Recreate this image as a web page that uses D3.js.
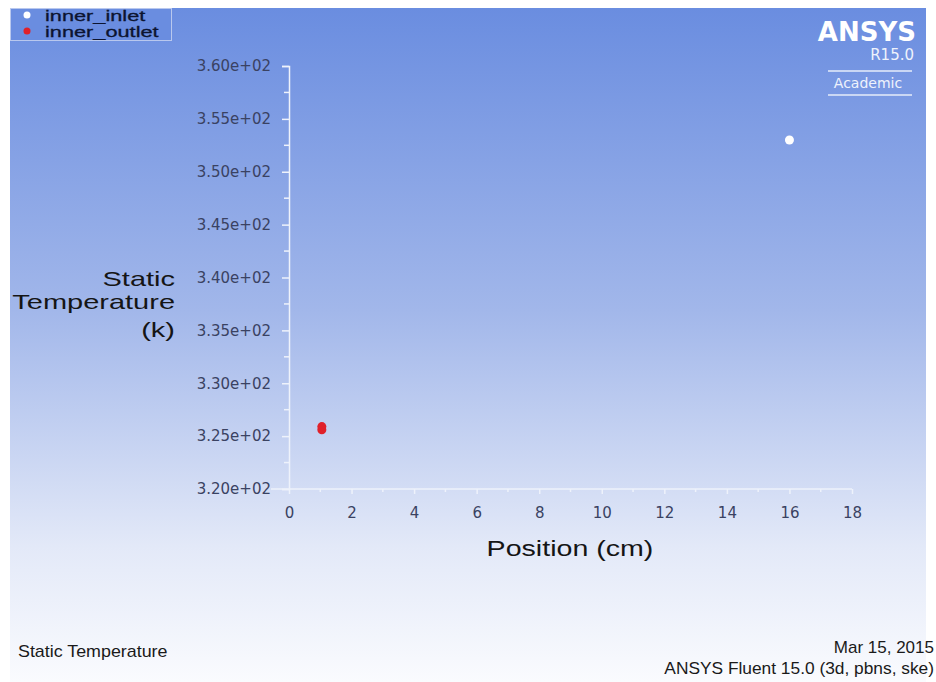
<!DOCTYPE html>
<html>
<head>
<meta charset="utf-8">
<script src="https://cdn.jsdelivr.net/npm/d3@7"></script>
<style>
  body { margin: 0; background: #fff; }
  svg { display: block; font-family: Arial, "Liberation Sans", sans-serif; }
</style>
</head>
<body>
<svg id="chart" width="936" height="682"></svg>
<script>
const seriesNames = ["inner_inlet", "inner_outlet"];
const seriesColors = ["#ffffff", "#e0202a"];
const inletPoints = [{ x: 16, y: 353.0 }];
const outletPoints = [{ x: 1.05, y: 325.6 }, { x: 1.05, y: 325.9 }];
const yTicks = [320, 325, 330, 335, 340, 345, 350, 355, 360];
const xTicks = [0, 2, 4, 6, 8, 10, 12, 14, 16, 18];
const yTitleLines = ["Static", "Temperature", "(k)"];

const svg = d3.select("#chart");

// text that is a bit wider than the font, like the stretched screenshot
function wideText(parent, px, py, anchor, txt, size, sx, color) {
  return parent.append("text")
    .attr("transform", `translate(${px},${py}) scale(${sx},1)`)
    .attr("text-anchor", anchor)
    .attr("fill", color)
    .style("font-size", size + "px")
    .text(txt);
}

// background panel with vertical gradient
const defs = svg.append("defs");
const grad = defs.append("linearGradient")
  .attr("id", "bg").attr("x1", 0).attr("y1", 0).attr("x2", 0).attr("y2", 1);
grad.append("stop").attr("offset", "0%").attr("stop-color", "#6a8de0");
grad.append("stop").attr("offset", "45%").attr("stop-color", "#a2b7ea");
grad.append("stop").attr("offset", "80%").attr("stop-color", "#e3e9f8");
grad.append("stop").attr("offset", "100%").attr("stop-color", "#fafbfe");

svg.append("rect")
  .attr("x", 10).attr("y", 8).attr("width", 916).attr("height", 674)
  .attr("fill", "url(#bg)");

const x = d3.scaleLinear().domain([0, 18]).range([289, 852]);
const y = d3.scaleLinear().domain([320, 360]).range([489, 66]);

const axisColor = "#eef2fb";
const tickText = "#3a4262";

// y axis
const yAxis = svg.append("g")
  .attr("transform", `translate(${x(0)},0)`)
  .call(d3.axisLeft(y).tickValues(yTicks).tickSize(7).tickPadding(11)
    .tickFormat((d) => d.toExponential(2).replace("e+", "e+0")));
// minor y ticks
svg.append("g").selectAll("line")
  .data(yTicks.slice(0, -1).map((d) => d + 2.5))
  .join("line")
  .attr("x1", x(0) - 5).attr("x2", x(0))
  .attr("y1", (d) => y(d)).attr("y2", (d) => y(d))
  .attr("stroke", axisColor).attr("stroke-width", 1.5);

// x axis
const xAxis = svg.append("g")
  .attr("transform", `translate(0,${y(320)})`)
  .call(d3.axisBottom(x).tickValues(xTicks).tickSize(5).tickPadding(13));
svg.append("g").selectAll("line")
  .data(d3.range(1, 18, 2))
  .join("line")
  .attr("x1", (d) => x(d)).attr("x2", (d) => x(d))
  .attr("y1", y(320)).attr("y2", y(320) + 3)
  .attr("stroke", axisColor).attr("stroke-width", 1.5);

[xAxis, yAxis].forEach((g) => {
  g.select(".domain").attr("stroke", axisColor).attr("stroke-width", 1.5);
  g.selectAll(".tick line").attr("stroke", axisColor).attr("stroke-width", 1.5);
  g.selectAll(".tick text")
    .attr("fill", tickText)
    .style("font-size", "15px")
    .style("font-family", "'DejaVu Sans', Verdana, sans-serif");
});
xAxis.select(".domain").attr("d", `M${x(0) - 18},0H${x(18)}`);

// axis titles
yTitleLines.forEach((t, i) => {
  wideText(svg, 175, [286, 309, 337][i], "end", t, 21, 1.38, "#151515");
});
wideText(svg, 570, 556, "middle", "Position (cm)", 22, 1.3, "#151515");

// data points
const series = [inletPoints, outletPoints];
series.forEach((pts, i) => {
  svg.append("g").selectAll("circle")
    .data(pts)
    .join("circle")
    .attr("cx", (d) => x(d.x))
    .attr("cy", (d) => y(d.y))
    .attr("r", 4.5)
    .attr("fill", seriesColors[i]);
});

// legend
const legend = svg.append("g");
legend.append("rect")
  .attr("x", 10.5).attr("y", 8.5).attr("width", 161).attr("height", 32)
  .attr("fill", "#6a8de0").attr("stroke", "#b9c8ee").attr("stroke-width", 1);
seriesNames.forEach((name, i) => {
  legend.append("circle")
    .attr("cx", 27).attr("cy", 15 + i * 16).attr("r", 3.5)
    .attr("fill", seriesColors[i]);
  wideText(legend, 45, 21 + i * 15.5, "start", name, 15, 1.45, "#0c1430")
    .attr("stroke", "#0c1430").attr("stroke-width", 0.3);
});

// ANSYS logo
const logoFont = "'DejaVu Sans', sans-serif";
svg.append("text")
  .attr("x", 916).attr("y", 41).attr("text-anchor", "end")
  .attr("fill", "#ffffff")
  .style("font-size", "26px").style("font-weight", "bold")
  .style("font-family", logoFont)
  .text("ANSYS");
svg.append("text")
  .attr("x", 914).attr("y", 60).attr("text-anchor", "end")
  .attr("fill", "#eef2fc")
  .style("font-size", "15px")
  .style("font-family", logoFont)
  .text("R15.0");
[71, 95].forEach((yy) => {
  svg.append("line")
    .attr("x1", 828).attr("x2", 912).attr("y1", yy).attr("y2", yy)
    .attr("stroke", "#e6ecfa").attr("stroke-width", 1.5);
});
svg.append("text")
  .attr("x", 868).attr("y", 88).attr("text-anchor", "middle")
  .attr("fill", "#eef2fc")
  .style("font-size", "14px")
  .style("font-family", logoFont)
  .text("Academic");

// footer
wideText(svg, 18, 657, "start", "Static Temperature", 17, 1.05, "#1a1a1a");
wideText(svg, 934, 653, "end", "Mar 15, 2015", 17, 1.0, "#1a1a1a");
wideText(svg, 934, 674, "end", "ANSYS Fluent 15.0 (3d, pbns, ske)", 17, 1.02, "#1a1a1a");
</script>
</body>
</html>
